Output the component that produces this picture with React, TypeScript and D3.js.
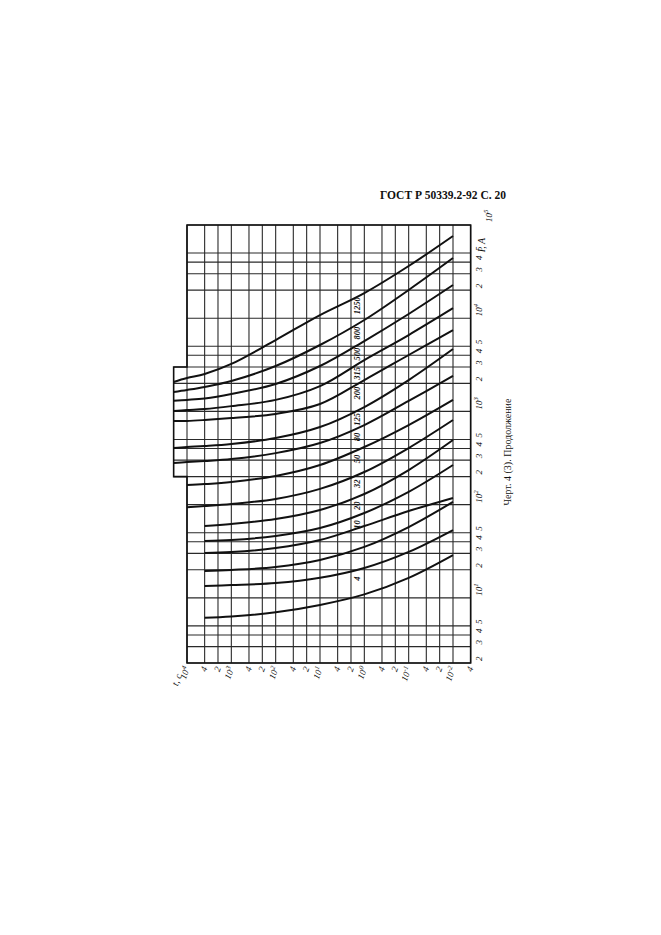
import React from "react";
import * as d3 from "d3";

const W = 661;
const H = 935;

// time (s) grid values and current (A) grid values
const TIME_GRID = [1e4, 4e3, 2e3, 1e3, 400, 200, 100, 40, 20, 10, 4, 2, 1, 0.4, 0.2, 0.1, 0.04, 0.02, 0.01, 0.004];
const CURRENT_GRID = [2, 3, 4, 5, 10, 20, 30, 40, 50, 100, 200, 300, 400, 500, 1e3, 2e3, 3e3, 4e3, 5e3, 1e4, 2e4, 3e4, 4e4, 5e4, 1e5];

// sample times (s) for the curves; currents (A) read at these times
const TIMES = [2e4, 1e4, 4e3, 1e3, 1e2, 10, 1, 0.1, 0.01];
const cA = [2070, 2280, 2520, 3230, 5830, 10800, 18600, 36300, 76200];
const cB = [1620, 1700, 1830, 2120, 3070, 5160, 9570, 20100, 44200];
const cC = [1300, 1330, 1380, 1540, 1970, 3070, 5690, 11100, 22700];
const cD = [1010, 1035, 1060, 1140, 1330, 1870, 3560, 6600, 12800];
const cE = [790, 790, 809, 850, 940, 1200, 2170, 4030, 7470];
const cF = [405, 415, 425, 447, 518, 680, 1115, 2170, 4670];
const cG = [280, 287, 294, 308, 357, 458, 714, 1298, 2400];
const cH = [null, 162, 166, 175, 203, 266, 415, 714, 1330];
const cI = [null, 94, 96.6, 101.5, 115, 147.5, 224, 405, 809];
const cJ = [null, null, 59, 62, 70, 87.5, 130, 235, 493];
const cK = [null, null, 40.8, 41.7, 46.1, 56.1, 81.3, 137, 266];
const cL = [null, null, 30.3, 31, 34.2, 41.7, 59, 85.4, 118];
const cM = [null, null, 19.4, 19.9, 21.4, 25.5, 35.2, 57.5, 107];
const cN = [null, null, 13.4, 13.7, 14.4, 16.4, 20.9, 31.1, 53.4];
const cO = [null, null, 6.1, 6.3, 7.0, 8.4, 10.9, 16.4, 28.8];
const CURVES = [cA, cB, cC, cD, cE, cF, cG, cH, cI, cJ, cK, cL, cM, cN, cO];
const CURVE_NAMES = ["1250", "800", "500", "315", "200", "125", "80", "50", "32", "20", "10", "", "", "4", ""];

const x = d3.scaleLog().domain([1e4, 1e-2]).range([187, 453]);
const y = d3.scaleLog().domain([1e5, 2]).range([225, 663]);

function mant(v: number) {
  const e = Math.floor(Math.log10(v) + 1e-9);
  const m = Math.round(v / Math.pow(10, e));
  return { m, e };
}

function Pow({ e, size }: { e: number; size: number }) {
  return (
    <>
      <tspan>10</tspan>
      <tspan dy={-size * 0.4} fontSize={size * 0.75}>{String(e)}</tspan>
    </>
  );
}

export default function App() {
  const xL = x(1e4);
  const xBox = x(2e4);
  const xR = x(0.004);
  const yT = y(1e5);
  const yB = y(2);

  const framePath = [
    [xL, yT], [xR, yT], [xR, yB], [xL, yB], [xL, y(200)], [xBox, y(200)], [xBox, y(3000)], [xL, y(3000)],
  ].map((p, i) => (i === 0 ? "M" : "L") + p[0] + "," + p[1]).join("") + "Z";

  const line = d3
    .line<[number, number]>()
    .x((d) => x(d[0]))
    .y((d) => y(d[1]))
    .curve(d3.curveCatmullRom.alpha(0.5));

  const curveData = CURVES.map((vals) => {
    const pts: [number, number][] = [];
    TIMES.forEach((t, i) => {
      const v = vals[i];
      if (v != null) pts.push([t, v]);
    });
    return pts;
  });

  const labelX = 357;
  const tLab = x.invert(labelX);
  function interp(pts: [number, number][], t: number) {
    for (let i = 0; i < pts.length - 1; i++) {
      const [t0, v0] = pts[i];
      const [t1, v1] = pts[i + 1];
      if (t <= t0 && t >= t1) {
        const f = (Math.log(t0) - Math.log(t)) / (Math.log(t0) - Math.log(t1));
        return Math.exp(Math.log(v0) + f * (Math.log(v1) - Math.log(v0)));
      }
    }
    return pts[pts.length - 1][1];
  }

  return (
    <svg width={W} height={H} style={{ position: "absolute", left: 0, top: 0, background: "#fff" }}>
      <rect width={W} height={H} fill="#fff" />
      <text x={506} y={199} textAnchor="end" fontFamily="Liberation Serif" fontWeight="bold" fontSize={11.5} fill="#111">
        ГОСТ Р 50339.2-92 С. 20
      </text>

      {/* grid */}
      <g stroke="#2a2a2a" strokeWidth={1.1}>
        {TIME_GRID.map((t) => (
          <line key={"v" + t} x1={x(t)} x2={x(t)} y1={yT} y2={yB} />
        ))}
        {CURRENT_GRID.map((c) => (
          <line key={"h" + c} x1={c >= 200 && c <= 3000 ? xBox : xL} x2={xR} y1={y(c)} y2={y(c)} />
        ))}
      </g>
      <path d={framePath} fill="none" stroke="#111" strokeWidth={1.6} />

      {/* curves */}
      <g fill="none" stroke="#111" strokeWidth={2}>
        {curveData.map((pts, k) => (
          <path key={k} d={line(pts) || ""} />
        ))}
      </g>
      {curveData.map((pts, k) => {
        if (!CURVE_NAMES[k]) return null;
        const yy = y(interp(pts, tLab)) + 9;
        return (
          <text key={"l" + k} transform={`translate(${labelX + 3},${yy}) rotate(-90)`} textAnchor="middle"
            fontFamily="Liberation Serif" fontStyle="italic" fontWeight="bold" fontSize={8.5} fill="#111">
            {CURVE_NAMES[k]}
          </text>
        );
      })}

      {/* right axis labels (current) */}
      {CURRENT_GRID.map((c) => {
        const { m, e } = mant(c);
        if (c === 1e5) {
          return (
            <text key={"r" + c} transform={`translate(${xR + 21},${yT - 3}) rotate(-90)`} fontFamily="Liberation Serif" fontStyle="italic" fontSize={9} fill="#111">
              <Pow e={e} size={9} />
            </text>
          );
        }
        return (
          <text key={"r" + c} transform={`translate(${xR + 11},${y(c) - 2}) rotate(-90)`} fontFamily="Liberation Serif" fontStyle="italic" fontSize={9} fill="#111">
            {m === 1 ? <Pow e={e} size={9} /> : String(m)}
          </text>
        );
      })}
      <text transform={`translate(${xR + 14},${yT + 20}) rotate(-90)`} textAnchor="middle" fontFamily="Liberation Serif" fontStyle="italic" fontSize={10} fill="#111">
        I, A
      </text>

      {/* bottom axis labels (time) */}
      {TIME_GRID.map((t) => {
        const { m, e } = mant(t);
        return (
          <text key={"b" + t} transform={`translate(${x(t) + 3},${yB + 5}) rotate(-70)`} textAnchor="end" fontFamily="Liberation Serif" fontStyle="italic" fontSize={9} fill="#111">
            {m === 1 ? <Pow e={e} size={9} /> : String(m)}
          </text>
        );
      })}
      <text transform={`translate(${xL - 5},${yB + 12}) rotate(-70)`} textAnchor="end" fontFamily="Liberation Serif" fontStyle="italic" fontSize={10} fill="#111">
        t, c
      </text>

      <text transform={`translate(511,452) rotate(-90)`} textAnchor="middle" fontFamily="Liberation Serif" fontSize={10} fill="#111">
        Черт. 4 (3). Продолжение
      </text>
    </svg>
  );
}
